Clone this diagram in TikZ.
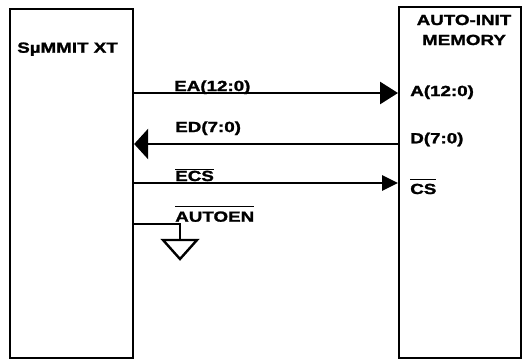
\documentclass[tikz,border=0pt]{standalone}
\usepackage{fontspec}
\newfontfamily\lblfont[FakeStretch=1.28, FakeBold=1.6]{Liberation Sans}
\usetikzlibrary{arrows.meta}
\newcommand\ovl[2]{\setbox0\hbox{#2}\rlap{\raise\dimexpr\ht0+#1\relax\hbox{\vrule width\wd0 height 1pt depth 0pt}}\box0}
\tikzset{
  chip/.style={draw, line width=1.6pt, inner sep=0pt},
  sig/.style={line width=2.1pt},
  lbl/.style={anchor=base west, inner sep=0pt, font=\lblfont\bfseries\fontsize{11pt}{15pt}\selectfont},
  ttl/.style={anchor=base, inner sep=0pt, align=center, font=\lblfont\bfseries\fontsize{11pt}{15pt}\selectfont},
}
\begin{document}
\begin{tikzpicture}[x=0.75pt, y=-0.75pt]
\useasboundingbox[fill=white] (0,0) rectangle (523,358);
% boxes
\node[chip, minimum width=123*0.75pt, minimum height=349*0.75pt, anchor=north west] (sum) at (9,8) {};
\node[chip, minimum width=122*0.75pt, minimum height=351*0.75pt, anchor=north west] (mem) at (398,6) {};
% titles
\node[lbl] (sumt) at (17,52.7) {S\textmu MMIT XT};
\node[ttl] (memt) at (464,45) {AUTO-INIT\\MEMORY};
% pin labels on memory
\node[lbl] (pa) at (410,96) {A(12:0)};
\node[lbl] (pd) at (410,143.3) {D(7:0)};
\node[lbl] (pcs) at (410,194) {\ovl{2.6pt}{CS}};
% signal labels
\node[lbl] (lea) at (174,91) {EA(12:0)};
\node[lbl] (led) at (175,132) {ED(7:0)};
\node[lbl] (lecs) at (175,181) {\ovl{0.6pt}{ECS}};
\node[lbl] (lauto) at (175,221.7) {\ovl{3.2pt}{AUTOEN}};
% connectors
\draw[sig, -{Triangle[length=13.5pt, width=16.5pt]}] (sum.east |- 0,93) -- (mem.west |- 0,93);
\draw[sig, -{Triangle[length=10.5pt, width=22.5pt]}] (mem.west |- 0,144) -- (sum.east |- 0,144);
\draw[sig, -{Triangle[length=12pt, width=11.25pt]}] (sum.east |- 0,183) -- (mem.west |- 0,183);
% AUTOEN tied to ground
\coordinate (gnd) at (180,240);
\draw[sig, line width=1.8pt] (sum.east |- 0,224) -| (gnd);
\draw[line width=1.8pt, line join=miter] (163,240) -- (197,240) -- (180,259) -- cycle;
\end{tikzpicture}
\end{document}
